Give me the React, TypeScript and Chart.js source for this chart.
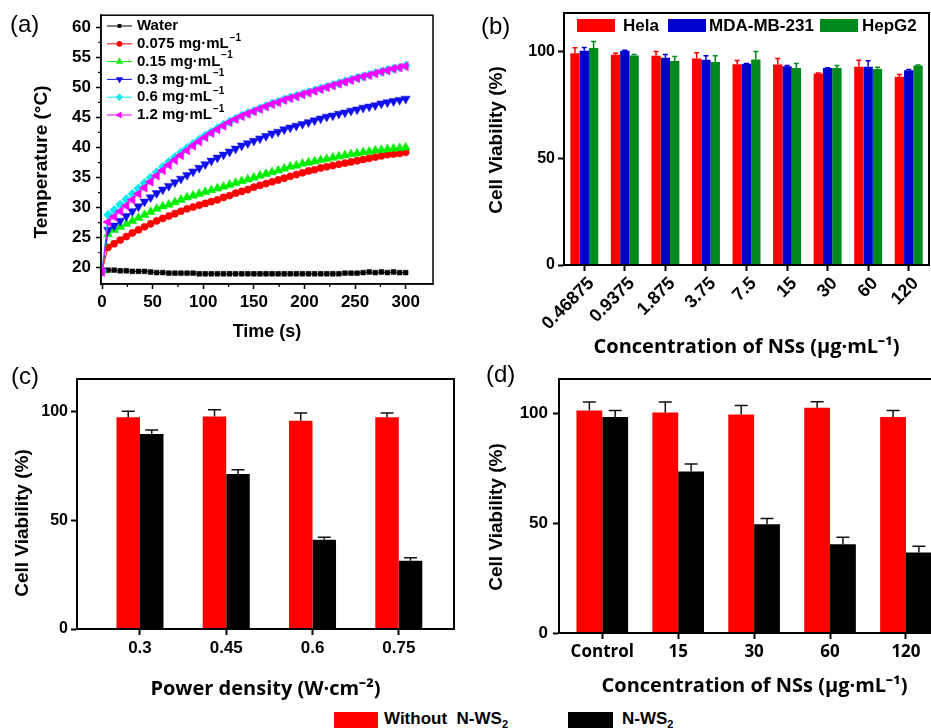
import React, { useEffect, useRef } from 'react';
import { Chart, registerables } from 'chart.js';

Chart.register(...registerables);

const FONT = "'Liberation Sans', Arial, Helvetica, sans-serif";
const TFONT = "'Open Sans', 'Liberation Sans', sans-serif";
Chart.defaults.font.family = FONT;
Chart.defaults.color = '#000';

const RED = '#ff0000';
const BLUE = '#0000cd';
const GREEN = '#008a1e';
const BLACK = '#000000';

// ---------------- Panel (a) ----------------
const A_TIME = [0, 6, 12, 18, 24, 30, 36, 42, 48, 54, 60, 66, 72, 78, 84, 90, 96, 102, 108, 114, 120, 126, 132, 138, 144, 150, 156, 162, 168, 174, 180, 186, 192, 198, 204, 210, 216, 222, 228, 234, 240, 246, 252, 258, 264, 270, 276, 282, 288, 294, 300];
const A_WATER = [19.5, 19.6, 19.6, 19.5, 19.5, 19.4, 19.4, 19.4, 19.3, 19.2, 19.2, 19.1, 19.1, 19.1, 19.1, 19.1, 19.0, 19.0, 19.0, 19.0, 19.0, 19.0, 19.0, 19.0, 19.0, 19.0, 19.0, 19.0, 19.0, 19.0, 19.0, 19.0, 19.0, 19.0, 19.0, 19.0, 19.0, 19.0, 19.0, 19.0, 19.1, 19.1, 19.1, 19.2, 19.3, 19.2, 19.3, 19.2, 19.3, 19.2, 19.2];
const A_C0075 = [19.5, 23.4, 24.0, 24.6, 25.2, 25.8, 26.3, 26.8, 27.3, 27.8, 28.2, 28.6, 29.0, 29.4, 29.8, 30.1, 30.4, 30.7, 31.0, 31.3, 31.7, 32.0, 32.4, 32.7, 33.0, 33.4, 33.7, 34.0, 34.3, 34.6, 34.9, 35.2, 35.5, 35.8, 36.1, 36.3, 36.6, 36.8, 37.0, 37.2, 37.4, 37.6, 37.8, 38.0, 38.2, 38.4, 38.6, 38.8, 38.9, 39.0, 39.2];
const A_C015 = [19.5, 25.6, 26.3, 26.8, 27.3, 27.8, 28.3, 28.8, 29.3, 29.8, 30.2, 30.5, 30.9, 31.3, 31.7, 32.0, 32.3, 32.6, 32.9, 33.2, 33.5, 33.8, 34.1, 34.4, 34.7, 35.0, 35.3, 35.6, 35.9, 36.2, 36.5, 36.8, 37.0, 37.3, 37.5, 37.7, 37.9, 38.1, 38.3, 38.5, 38.7, 38.9, 39.0, 39.2, 39.3, 39.5, 39.6, 39.7, 39.8, 39.9, 40.0];
const A_C03 = [19.5, 26.3, 27.0, 27.8, 28.6, 29.4, 30.2, 31.0, 31.7, 32.4, 33.0, 33.6, 34.2, 34.8, 35.4, 36.0, 36.6, 37.2, 37.8, 38.3, 38.8, 39.3, 39.8, 40.3, 40.7, 41.1, 41.5, 41.9, 42.3, 42.6, 43.0, 43.3, 43.6, 43.9, 44.2, 44.5, 44.8, 45.1, 45.3, 45.6, 45.8, 46.1, 46.3, 46.6, 46.8, 47.0, 47.3, 47.5, 47.7, 47.9, 48.1];
const A_C06 = [19.5, 28.8, 29.6, 30.5, 31.4, 32.3, 33.2, 34.1, 35.0, 35.9, 36.8, 37.6, 38.4, 39.2, 39.9, 40.6, 41.3, 42.0, 42.6, 43.2, 43.8, 44.3, 44.8, 45.3, 45.7, 46.1, 46.5, 46.9, 47.3, 47.6, 48.0, 48.3, 48.6, 48.9, 49.2, 49.5, 49.8, 50.1, 50.4, 50.7, 51.0, 51.3, 51.6, 51.8, 52.1, 52.4, 52.6, 52.9, 53.1, 53.3, 53.6];
const A_C12 = [19.3, 27.6, 28.5, 29.4, 30.3, 31.3, 32.3, 33.3, 34.3, 35.3, 36.2, 37.1, 37.9, 38.7, 39.5, 40.3, 41.0, 41.7, 42.4, 43.0, 43.6, 44.2, 44.7, 45.2, 45.6, 46.0, 46.4, 46.8, 47.2, 47.5, 47.9, 48.2, 48.5, 48.8, 49.1, 49.4, 49.7, 50.0, 50.3, 50.6, 50.9, 51.2, 51.5, 51.8, 52.0, 52.3, 52.6, 52.8, 53.1, 53.3, 53.5];
const A_NAMES = ['Water', '0.075 mg·mL⁻¹', '0.15 mg·mL⁻¹', '0.3 mg·mL⁻¹', '0.6 mg·mL⁻¹', '1.2 mg·mL⁻¹'];
const A_XTICKS = [0, 50, 100, 150, 200, 250, 300];
const A_YTICKS = [20, 25, 30, 35, 40, 45, 50, 55, 60];

// ---------------- Panel (b) ----------------
const B_CATS = ['0.46875', '0.9375', '1.875', '3.75', '7.5', '15', '30', '60', '120'];
const B_SERIES = ['Hela', 'MDA-MB-231', 'HepG2'];
const B_HELA = [99.2, 98.4, 98.0, 96.7, 94.0, 93.9, 89.7, 92.8, 88.2];
const B_HELA_ERR = [2.5, 0.7, 2.0, 2.7, 1.8, 2.8, 0.2, 3.1, 1.0];
const B_MDA = [100.3, 100.3, 97.0, 96.1, 94.2, 93.1, 92.2, 92.8, 91.2];
const B_MDA_ERR = [1.6, 0.2, 1.6, 1.9, 0.2, 0.3, 0.2, 2.8, 0.3];
const B_HEPG2 = [101.6, 98.1, 95.5, 95.1, 96.2, 92.3, 92.3, 91.8, 93.4];
const B_HEPG2_ERR = [3.1, 0.5, 2.1, 2.9, 3.8, 2.1, 1.1, 0.8, 0.2];
const B_YTICKS = [0, 50, 100];

// ---------------- Panel (c) ----------------
const C_CATS = ['0.3', '0.45', '0.6', '0.75'];
const C_WITHOUT = [97.4, 97.8, 95.8, 97.4];
const C_WITHOUT_ERR = [2.8, 3.0, 3.6, 2.0];
const C_NWS2 = [89.7, 71.3, 41.0, 31.4];
const C_NWS2_ERR = [1.8, 1.9, 1.2, 1.4];
const C_YTICKS = [0, 50, 100];

// ---------------- Panel (d) ----------------
const D_CATS = ['Control', '15', '30', '60', '120'];
const D_WITHOUT = [101.2, 100.3, 99.4, 102.4, 98.2];
const D_WITHOUT_ERR = [3.8, 4.7, 4.1, 2.8, 3.0];
const D_NWS2 = [98.2, 73.4, 49.5, 40.4, 36.6];
const D_NWS2_ERR = [3.0, 3.5, 2.6, 3.1, 2.9];

const SHARED_SERIES = ['Without  N-WS', 'N-WS'];

// ---------------- helpers / plugins ----------------
function drawMarker(ctx: CanvasRenderingContext2D, style: string, x: number, y: number, r: number, rot: number, color: string) {
  ctx.save();
  ctx.translate(x, y);
  ctx.rotate((rot * Math.PI) / 180);
  ctx.fillStyle = color;
  ctx.beginPath();
  if (style === 'rect') {
    const h = r * 0.707;
    ctx.rect(-h, -h, 2 * h, 2 * h);
  } else if (style === 'circle') ctx.arc(0, 0, r, 0, Math.PI * 2);
  else if (style === 'triangle') {
    for (let k = 0; k < 3; k++) {
      const a = (k * 2 * Math.PI) / 3;
      const px = Math.sin(a) * r;
      const py = -Math.cos(a) * r;
      if (k === 0) ctx.moveTo(px, py); else ctx.lineTo(px, py);
    }
    ctx.closePath();
  } else if (style === 'rectRot') {
    ctx.moveTo(0, -r);
    ctx.lineTo(r, 0);
    ctx.lineTo(0, r);
    ctx.lineTo(-r, 0);
    ctx.closePath();
  }
  ctx.fill();
  ctx.restore();
}

const framePlugin = (lw: number) => ({
  id: 'frame',
  afterDraw(chart: any) {
    const { ctx, chartArea: a } = chart;
    ctx.save();
    ctx.strokeStyle = '#000';
    ctx.lineWidth = lw;
    ctx.strokeRect(a.left, a.top, a.right - a.left, a.bottom - a.top);
    ctx.restore();
  },
});

const yTitlePlugin = (text: string, x: number, y: number, font: string) => ({
  id: 'yTitle',
  afterDraw(chart: any) {
    const ctx = chart.ctx;
    ctx.save();
    ctx.translate(x, y);
    ctx.rotate(-Math.PI / 2);
    ctx.font = font;
    ctx.fillStyle = '#000';
    ctx.textAlign = 'center';
    ctx.textBaseline = 'middle';
    ctx.fillText(text, 0, 0);
    ctx.restore();
  },
});

const errorBarPlugin = (cap: number, lw: number) => ({
  id: 'errorBars',
  afterDatasetsDraw(chart: any) {
    const ctx = chart.ctx;
    chart.data.datasets.forEach((ds: any, di: number) => {
      const meta = chart.getDatasetMeta(di);
      if (!ds.errors || meta.hidden) return;
      const ys = chart.scales[meta.yAxisID];
      meta.data.forEach((bar: any, i: number) => {
        const raw = ds.data[i];
        const v = typeof raw === 'number' ? raw : raw.y;
        const top = ys.getPixelForValue(v + ds.errors[i]);
        ctx.save();
        ctx.strokeStyle = ds.errorColor;
        ctx.lineWidth = lw;
        ctx.beginPath();
        ctx.moveTo(bar.x, bar.y);
        ctx.lineTo(bar.x, top);
        ctx.moveTo(bar.x - cap / 2, top);
        ctx.lineTo(bar.x + cap / 2, top);
        ctx.stroke();
        ctx.restore();
      });
    });
  },
});

const minorTicksPlugin = {
  id: 'minorTicks',
  afterDraw(chart: any) {
    const { ctx, chartArea: a, scales } = chart;
    ctx.save();
    ctx.strokeStyle = '#000';
    ctx.lineWidth = 1.2;
    ctx.beginPath();
    const xt = scales.x.ticks;
    for (let i = 0; i < xt.length - 1; i++) {
      const px = scales.x.getPixelForValue((xt[i].value + xt[i + 1].value) / 2);
      ctx.moveTo(px, a.bottom);
      ctx.lineTo(px, a.bottom + 3);
    }
    const yt = scales.y.ticks;
    for (let i = 0; i < yt.length - 1; i++) {
      const py = scales.y.getPixelForValue((yt[i].value + yt[i + 1].value) / 2);
      ctx.moveTo(a.left, py);
      ctx.lineTo(a.left - 3, py);
    }
    ctx.stroke();
    ctx.restore();
  },
};

const A_STYLES = [
  { color: BLACK, point: 'rect', rot: 0, r: 3.4 },
  { color: RED, point: 'circle', rot: 0, r: 3.6 },
  { color: '#00ee00', point: 'triangle', rot: 0, r: 5.2 },
  { color: '#1010ee', point: 'triangle', rot: 180, r: 5.2 },
  { color: '#00eeee', point: 'rectRot', rot: 0, r: 4.6 },
  { color: '#ff00ff', point: 'triangle', rot: -90, r: 5.2 },
];

const legendAPlugin = {
  id: 'legendA',
  afterDraw(chart: any) {
    const ctx = chart.ctx;
    A_NAMES.forEach((name, i) => {
      const st = A_STYLES[i];
      const y = 26 + i * 17.8;
      ctx.save();
      ctx.strokeStyle = st.color;
      ctx.lineWidth = 1;
      ctx.beginPath();
      ctx.moveTo(107, y);
      ctx.lineTo(132, y);
      ctx.stroke();
      drawMarker(ctx, st.point, 119.5, y, st.r * 0.8, st.rot, st.color);
      ctx.fillStyle = '#000';
      ctx.textAlign = 'left';
      ctx.textBaseline = 'middle';
      ctx.font = `bold 15px ${FONT}`;
      const sup = name.endsWith('⁻¹');
      const base = sup ? name.slice(0, -2) : name;
      ctx.fillText(base, 137, y);
      if (sup) {
        const w = ctx.measureText(base).width;
        ctx.font = `bold 10px ${FONT}`;
        ctx.fillText('\u22121', 137 + w + 1, y - 6);
      }
      ctx.restore();
    });
  },
};

const B_COLORS = [RED, BLUE, GREEN];
const legendBPlugin = {
  id: 'legendB',
  afterDraw(chart: any) {
    const ctx = chart.ctx;
    const boxes = [107, 198, 350];
    const texts = [153, 239, 392];
    B_SERIES.forEach((name, i) => {
      ctx.save();
      ctx.fillStyle = B_COLORS[i];
      ctx.fillRect(boxes[i], 19, 38, 13);
      ctx.fillStyle = '#000';
      ctx.font = `bold 17px ${FONT}`;
      ctx.textAlign = 'left';
      ctx.textBaseline = 'middle';
      ctx.fillText(name, texts[i], 26.5);
      ctx.restore();
    });
  },
};

const axisCommon = (lw: number, tl: number) => ({
  grid: { display: true, drawOnChartArea: false, drawTicks: true, tickLength: tl, tickColor: '#000', tickWidth: lw, offset: false },
  border: { display: true, color: '#000', width: lw },
});

function configA(): any {
  const series = [A_WATER, A_C0075, A_C015, A_C03, A_C06, A_C12];
  return {
    type: 'line',
    data: {
      datasets: series.map((s, i) => ({
        label: A_NAMES[i],
        data: A_TIME.map((t, j) => ({ x: t, y: s[j] })),
        borderColor: A_STYLES[i].color,
        backgroundColor: A_STYLES[i].color,
        pointBackgroundColor: A_STYLES[i].color,
        pointBorderColor: A_STYLES[i].color,
        pointStyle: A_STYLES[i].point,
        pointRotation: A_STYLES[i].rot,
        pointRadius: A_STYLES[i].r,
        pointBorderWidth: 0.5,
        borderWidth: 1,
        order: 5 - i,
      })),
    },
    options: {
      responsive: false,
      animation: false,
      layout: { padding: { left: 0, top: 15, right: 32, bottom: 0 } },
      plugins: { legend: { display: false }, tooltip: { enabled: false } },
      scales: {
        x: {
          type: 'linear',
          min: -1,
          max: 327,
          ...axisCommon(1.5, 5),
          afterBuildTicks: (s: any) => { s.ticks = A_XTICKS.map((v) => ({ value: v })); },
          afterFit: (s: any) => { s.height = 66; },
          ticks: { font: { size: 17, weight: 'bold' }, color: '#000', padding: 3, maxRotation: 0, autoSkip: false },
          title: { display: true, text: 'Time (s)', font: { size: 18, weight: 'bold' }, color: '#000', padding: { top: 0, bottom: 7 } },
        },
        y: {
          type: 'linear',
          min: 17.3,
          max: 62,
          ...axisCommon(1.5, 5),
          afterBuildTicks: (s: any) => { s.ticks = A_YTICKS.map((v) => ({ value: v })); },
          afterFit: (s: any) => { s.width = 101; },
          ticks: { font: { size: 17, weight: 'bold' }, color: '#000', padding: 5, autoSkip: false },
        },
      },
    },
    plugins: [framePlugin(1.5), minorTicksPlugin, legendAPlugin, yTitlePlugin('Temperature (°C)', 42, 162, `bold 19px ${FONT}`)],
  };
}

function configB(): any {
  const vals = [B_HELA, B_MDA, B_HEPG2];
  const errs = [B_HELA_ERR, B_MDA_ERR, B_HEPG2_ERR];
  return {
    type: 'bar',
    data: {
      labels: B_CATS,
      datasets: B_SERIES.map((name, i) => ({
        label: name,
        data: vals[i],
        backgroundColor: B_COLORS[i],
        errors: errs[i],
        errorColor: B_COLORS[i],
        categoryPercentage: 0.69,
        barPercentage: 1,
      })),
    },
    options: {
      responsive: false,
      animation: false,
      layout: { padding: { left: 0, top: 13, right: 2, bottom: 0 } },
      plugins: { legend: { display: false }, tooltip: { enabled: false } },
      scales: {
        x: {
          ...axisCommon(2, 6),
          afterFit: (s: any) => { s.height = 95; },
          ticks: { font: { size: 18, weight: 'bold' }, color: '#000', minRotation: 45, maxRotation: 45, padding: 2, labelOffset: 7, autoSkip: false },
          title: { display: true, text: 'Concentration of NSs (μg·mL⁻¹)', font: { family: TFONT, size: 20, weight: 'bold' }, color: '#000', padding: { top: 0, bottom: 1 } },
        },
        y: {
          min: 0,
          max: 118,
          ...axisCommon(2, 6),
          afterBuildTicks: (s: any) => { s.ticks = B_YTICKS.map((v) => ({ value: v })); },
          afterFit: (s: any) => { s.width = 94; },
          ticks: { font: { size: 16, weight: 'bold' }, color: '#000', padding: 3 },
        },
      },
    },
    plugins: [framePlugin(2), errorBarPlugin(5, 1.5), legendBPlugin, yTitlePlugin('Cell Viability (%)', 27, 140, `bold 19px ${FONT}`)],
  };
}

function configPair(
  cats: string[], a: number[], aErr: number[], b: number[], bErr: number[],
  geo: { xmin: number; xmax: number; ymax: number; padTop: number; padRight: number; yw: number; xh: number; catPct: number; xTitle: string; xTitlePad: number; tickFont: any; tickPad: number; yTickPad: number; yTickSize: number; yTitleX: number; yTitleY: number }
): any {
  return {
    type: 'bar',
    data: {
      datasets: [
        { label: SHARED_SERIES[0], data: a.map((v, i) => ({ x: i, y: v })), backgroundColor: RED, errors: aErr, errorColor: '#111', categoryPercentage: geo.catPct, barPercentage: 1 },
        { label: SHARED_SERIES[1], data: b.map((v, i) => ({ x: i, y: v })), backgroundColor: BLACK, errors: bErr, errorColor: '#111', categoryPercentage: geo.catPct, barPercentage: 1 },
      ],
    },
    options: {
      responsive: false,
      animation: false,
      layout: { padding: { left: 0, top: geo.padTop, right: geo.padRight, bottom: 0 } },
      plugins: { legend: { display: false }, tooltip: { enabled: false } },
      scales: {
        x: {
          type: 'linear',
          offset: false,
          min: geo.xmin,
          max: geo.xmax,
          ...axisCommon(2, 6),
          afterBuildTicks: (s: any) => { s.ticks = cats.map((_, i) => ({ value: i })); },
          afterFit: (s: any) => { s.height = geo.xh; },
          ticks: { font: geo.tickFont, color: '#000', padding: geo.tickPad, maxRotation: 0, autoSkip: false, callback: (v: any) => cats[v] ?? '' },
          title: { display: true, text: geo.xTitle, font: { family: TFONT, size: 20, weight: 'bold' }, color: '#000', padding: { top: 0, bottom: geo.xTitlePad } },
        },
        y: {
          min: 0,
          max: geo.ymax,
          ...axisCommon(2, 6),
          afterBuildTicks: (s: any) => { s.ticks = C_YTICKS.map((v) => ({ value: v })); },
          afterFit: (s: any) => { s.width = geo.yw; },
          ticks: { font: { size: geo.yTickSize, weight: 'bold' }, color: '#000', padding: geo.yTickPad },
        },
      },
    },
    plugins: [framePlugin(2), errorBarPlugin(13, 1.5), yTitlePlugin('Cell Viability (%)', geo.yTitleX, geo.yTitleY, `bold 19px ${FONT}`)],
  };
}

function configC(): any {
  return configPair(C_CATS, C_WITHOUT, C_WITHOUT_ERR, C_NWS2, C_NWS2_ERR, {
    xmin: -0.73, xmax: 3.64, ymax: 115, padTop: 19, padRight: 11, yw: 77, xh: 76, catPct: 0.545,
    xTitle: 'Power density (W·cm⁻²)', xTitlePad: 4, tickFont: { size: 17, weight: 'bold' }, tickPad: 3,
    yTickPad: 3, yTickSize: 16, yTitleX: 23, yTitleY: 163,
  });
}

function configD(): any {
  return configPair(D_CATS, D_WITHOUT, D_WITHOUT_ERR, D_NWS2, D_NWS2_ERR, {
    xmin: -0.57, xmax: 4.58, ymax: 115.5, padTop: 19, padRight: 50, yw: 89, xh: 72, catPct: 0.68,
    xTitle: 'Concentration of NSs (μg·mL⁻¹)', xTitlePad: 7, tickFont: { family: TFONT, size: 17, weight: 'bold' }, tickPad: 3,
    yTickPad: 5, yTickSize: 17, yTitleX: 27, yTitleY: 157,
  });
}

function ChartBox({ left, top, width, height, make }: { left: number; top: number; width: number; height: number; make: () => any }) {
  const ref = useRef<HTMLCanvasElement | null>(null);
  useEffect(() => {
    if (!ref.current) return;
    const chart = new Chart(ref.current, make());
    return () => chart.destroy();
  }, []);
  return (
    <canvas
      ref={ref}
      width={width}
      height={height}
      style={{ position: 'absolute', left, top, width, height, display: 'block' }}
    />
  );
}

const labelStyle = (left: number, top: number): React.CSSProperties => ({
  position: 'absolute', left, top, fontSize: 24, lineHeight: '24px', fontFamily: FONT, color: '#000',
});

export default function App() {
  return (
    <div style={{ position: 'fixed', left: 0, top: 0, width: 931, height: 728, overflow: 'hidden', background: '#fff', fontFamily: FONT }}>
      <ChartBox left={0} top={0} width={465} height={350} make={configA} />
      <ChartBox left={470} top={0} width={461} height={360} make={configB} />
      <ChartBox left={0} top={360} width={465} height={345} make={configC} />
      <ChartBox left={470} top={360} width={530} height={345} make={configD} />
      <div style={labelStyle(10, 12)}>(a)</div>
      <div style={labelStyle(481, 14)}>(b)</div>
      <div style={labelStyle(11, 364)}>(c)</div>
      <div style={labelStyle(486, 362)}>(d)</div>
      <div style={{ position: 'absolute', left: 334, top: 712, width: 44, height: 16, background: RED }} />
      <div style={{ position: 'absolute', left: 384, top: 709, fontSize: 17, lineHeight: '20px', fontWeight: 'bold', whiteSpace: 'pre' }}>
        {SHARED_SERIES[0]}<sub style={{ fontSize: 11 }}>2</sub>
      </div>
      <div style={{ position: 'absolute', left: 568, top: 712, width: 45, height: 16, background: BLACK }} />
      <div style={{ position: 'absolute', left: 622, top: 709, fontSize: 17, lineHeight: '20px', fontWeight: 'bold', whiteSpace: 'pre' }}>
        {SHARED_SERIES[1]}<sub style={{ fontSize: 11 }}>2</sub>
      </div>
    </div>
  );
}
